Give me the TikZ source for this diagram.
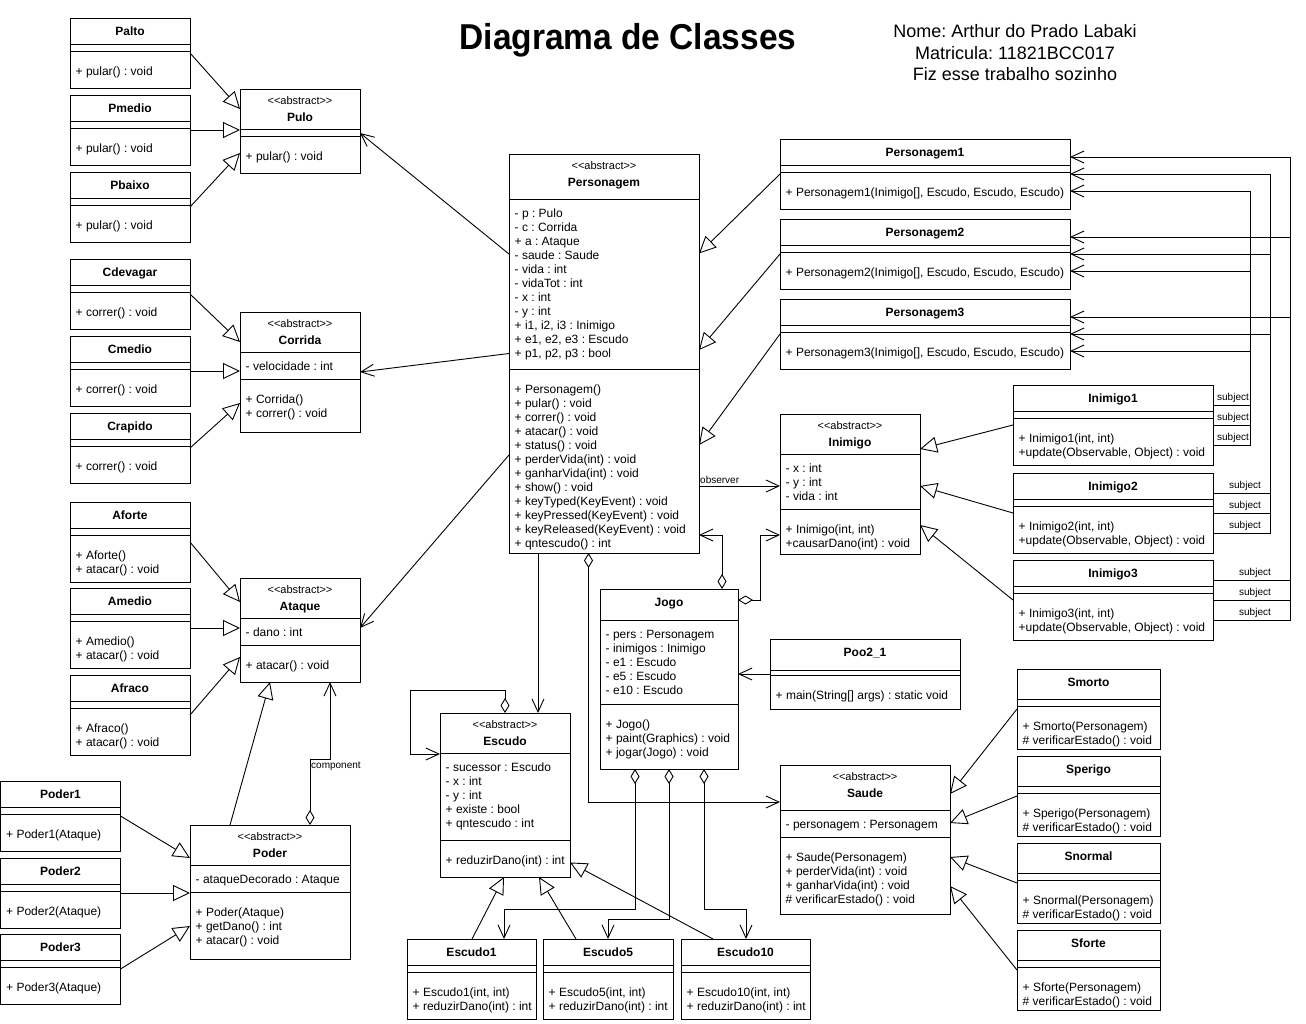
\documentclass[tikz,border=0pt]{standalone}
\usepackage{fontspec}
\setmainfont{Liberation Sans}
\usepackage{graphicx}
\usetikzlibrary{arrows.meta}

% one UML class: name, top-left, width, header/attribute/method heights, title, attributes, methods
\newif\ifabstractclass
\newcommand{\umlbody}[9]{%
  \node[classbox, minimum width=#3pt, minimum height=#4pt+#5pt+#6pt] (#1) at (#2) {};
  \draw[divider] ([yshift=-#4pt]#1.north west) -- ([yshift=-#4pt]#1.north east);
  \draw[divider] ([yshift=-#4pt-#5pt]#1.north west) -- ([yshift=-#4pt-#5pt]#1.north east);
  \ifabstractclass
    \node[stereotext] (#1-st) at ([yshift=-15pt]#1.north) {<\kern0pt<abstract>\kern0pt>};
    \node[nametext] (#1-nm) at ([yshift=-32pt]#1.north) {#7};
  \else
    \node[nametext] (#1-nm) at ([yshift=-17.6pt]#1.north) {#7};
  \fi
  \node[membertext] (#1-at) at ([xshift=5.5pt, yshift=-#4pt-18.2pt]#1.north west) {\parbox[t]{\dimexpr#3pt+40pt}{#8}};
  \node[membertext] (#1-op) at ([xshift=5.5pt, yshift=-#4pt-#5pt-24.5pt]#1.north west) {\parbox[t]{\dimexpr#3pt+40pt}{#9}};
}
\newcommand{\umlclass}{\abstractclassfalse\umlbody}
\newcommand{\umlabstract}{\abstractclasstrue\umlbody}

\begin{document}
\frenchspacing
\begin{tikzpicture}[
    x=1pt, y=-1pt,
    classbox/.style={draw, line width=1pt, inner sep=0pt, outer sep=0pt, anchor=north west},
    divider/.style={line width=1pt},
    nametext/.style={anchor=base, inner sep=0pt, font=\bfseries\fontsize{12}{14}\selectfont},
    stereotext/.style={anchor=base, inner sep=0pt, font=\fontsize{11}{13}\selectfont},
    membertext/.style={anchor=base west, inner sep=0pt, font=\fontsize{12}{14}\selectfont},
    edgelabel/.style={inner sep=0pt, font=\fontsize{10}{12}\selectfont},
    gen/.style={line width=0.9pt, -{Triangle[open, length=17pt, width=16pt]}},
    assoc/.style={line width=0.9pt, -{Straight Barb[length=13pt, width=12pt]}},
    agg/.style={line width=0.9pt, {Diamond[open, length=15pt, width=9pt]}-{Straight Barb[length=13pt, width=12pt]}}
]
    \useasboundingbox (0,0) rectangle (1306,1023);

    \node[anchor=base, inner sep=0pt, font=\bfseries\fontsize{36}{40}\selectfont] (title) at (628,49) {\scalebox{0.93}[1]{Diagrama de Classes}};
    \node[anchor=base, inner sep=0pt, font=\fontsize{18}{21.5}\selectfont] (author) at (1015,37.5)
        {\parbox[t]{300pt}{\centering Nome: Arthur do Prado Labaki\\Matricula: 11821BCC017\\Fiz esse trabalho sozinho}};

    % left column
    \umlclass{palto}{70,18}{120}{26}{7}{37}{Palto}{}{+ pular() : void}
    \umlclass{pmedio}{70,95}{120}{26}{7}{37}{Pmedio}{}{+ pular() : void}
    \umlclass{pbaixo}{70,172}{120}{26}{7}{37}{Pbaixo}{}{+ pular() : void}
    \umlabstract{pulo}{240,89}{120}{40}{7}{37}{Pulo}{}{+ pular() : void}
    \umlclass{cdevagar}{70,259}{120}{26}{7}{37}{Cdevagar}{}{+ correr() : void}
    \umlclass{cmedio}{70,336}{120}{26}{7}{37}{Cmedio}{}{+ correr() : void}
    \umlclass{crapido}{70,413}{120}{26}{7}{37}{Crapido}{}{+ correr() : void}
    \umlabstract{corrida}{240,312}{120}{40}{27}{53}{Corrida}{- velocidade : int}{+ Corrida()\\+ correr() : void}
    \umlclass{aforte}{70,502}{120}{26}{7}{47}{Aforte}{}{+ Aforte()\\+ atacar() : void}
    \umlclass{amedio}{70,588}{120}{26}{7}{47}{Amedio}{}{+ Amedio()\\+ atacar() : void}
    \umlclass{afraco}{70,675}{120}{26}{7}{47}{Afraco}{}{+ Afraco()\\+ atacar() : void}
    \umlabstract{ataque}{240,578}{120}{40}{27}{37}{Ataque}{- dano : int}{+ atacar() : void}
    \umlclass{poder1}{0.5,781}{120}{26}{7}{37}{Poder1}{}{+ Poder1(Ataque)}
    \umlclass{poder2}{0.5,858}{120}{26}{7}{37}{Poder2}{}{+ Poder2(Ataque)}
    \umlclass{poder3}{0.5,934}{120}{26}{7}{37}{Poder3}{}{+ Poder3(Ataque)}
    \umlabstract{poder}{190,825}{160}{40}{27}{67}{Poder}{- ataqueDecorado : Ataque}{+ Poder(Ataque)\\+ getDano() : int\\+ atacar() : void}

    % middle
    \umlabstract{personagem}{509,154}{190}{45}{170}{184}{Personagem}%
        {- p : Pulo\\- c : Corrida\\+ a : Ataque\\- saude : Saude\\- vida : int\\- vidaTot : int\\- x : int\\- y : int\\+ i1, i2, i3 : Inimigo\\+ e1, e2, e3 : Escudo\\+ p1, p2, p3 : bool}%
        {+ Personagem()\\+ pular() : void\\+ correr() : void\\+ atacar() : void\\+ status() : void\\+ perderVida(int) : void\\+ ganharVida(int) : void\\+ show() : void\\+ keyTyped(KeyEvent) : void\\+ keyPressed(KeyEvent) : void\\+ keyReleased(KeyEvent) : void\\+ qntescudo() : int}
    \umlclass{jogo}{600,589}{138}{31}{84}{65}{Jogo}{- pers : Personagem\\- inimigos : Inimigo\\- e1 : Escudo\\- e5 : Escudo\\- e10 : Escudo}{+ Jogo()\\+ paint(Graphics) : void\\+ jogar(Jogo) : void}
    \umlabstract{escudo}{440,713}{130}{40}{87}{37}{Escudo}{- sucessor : Escudo\\- x : int\\- y : int\\+ existe : bool\\+ qntescudo : int}{+ reduzirDano(int) : int}
    \umlclass{escudo1}{407,939}{129}{26}{7}{47}{Escudo1}{}{+ Escudo1(int, int)\\+ reduzirDano(int) : int}
    \umlclass{escudo5}{543,939}{130}{26}{7}{47}{Escudo5}{}{+ Escudo5(int, int)\\+ reduzirDano(int) : int}
    \umlclass{escudo10}{681,939}{129}{26}{7}{47}{Escudo10}{}{+ Escudo10(int, int)\\+ reduzirDano(int) : int}

    % right side
    \umlclass{personagem1}{780,139}{290}{26}{7}{37}{Personagem1}{}{+ Personagem1(Inimigo[], Escudo, Escudo, Escudo)}
    \umlclass{personagem2}{780,219}{290}{26}{7}{37}{Personagem2}{}{+ Personagem2(Inimigo[], Escudo, Escudo, Escudo)}
    \umlclass{personagem3}{780,299}{290}{26}{7}{37}{Personagem3}{}{+ Personagem3(Inimigo[], Escudo, Escudo, Escudo)}
    \umlabstract{inimigo}{780,414}{140}{40}{55}{45}{Inimigo}{- x : int\\- y : int\\- vida : int}{+ Inimigo(int, int)\\+causarDano(int) : void}
    \umlclass{inimigo1}{1013,385}{200}{26}{7}{47}{Inimigo1}{}{+ Inimigo1(int, int)\\+update(Observable, Object) : void}
    \umlclass{inimigo2}{1013,473}{200}{26}{7}{47}{Inimigo2}{}{+ Inimigo2(int, int)\\+update(Observable, Object) : void}
    \umlclass{inimigo3}{1013,560}{200}{26}{7}{47}{Inimigo3}{}{+ Inimigo3(int, int)\\+update(Observable, Object) : void}
    \umlclass{poo}{770,639}{190}{31}{5}{34}{Poo2\_1}{}{+ main(String[] args) : static void}
    \umlabstract{saude}{780,765}{170}{45}{27}{77}{Saude}{- personagem : Personagem}{+ Saude(Personagem)\\+ perderVida(int) : void\\+ ganharVida(int) : void\\\# verificarEstado() : void}
    \umlclass{smorto}{1017,669}{143}{30}{7}{43}{Smorto}{}{+ Smorto(Personagem)\\\# verificarEstado() : void}
    \umlclass{sperigo}{1017,756}{143}{30}{7}{43}{Sperigo}{}{+ Sperigo(Personagem)\\\# verificarEstado() : void}
    \umlclass{snormal}{1017,843}{143}{30}{7}{43}{Snormal}{}{+ Snormal(Personagem)\\\# verificarEstado() : void}
    \umlclass{sforte}{1017,930}{143}{30}{7}{43}{Sforte}{}{+ Sforte(Personagem)\\\# verificarEstado() : void}

    % strategies
    \draw[gen] (palto.east) -- ([yshift=22pt]pulo.west);
    \draw[gen] (pmedio.east) -- (pmedio.east -| pulo.west);
    \draw[gen] (pbaixo.east) -- ([yshift=-22pt]pulo.west);
    \draw[gen] (cdevagar.east) -- ([yshift=30pt]corrida.west);
    \draw[gen] (cmedio.east) -- (cmedio.east -| corrida.west);
    \draw[gen] (crapido.east) -- ([yshift=-31pt]corrida.west);
    \draw[gen] (aforte.east) -- ([yshift=28pt]ataque.west);
    \draw[gen] (amedio.east) -- (amedio.east -| ataque.west);
    \draw[gen] (afraco.east) -- ([yshift=-27pt]ataque.west);

    % decorator
    \draw[gen] (poder1.east) -- ([yshift=34pt]poder.west);
    \draw[gen] (poder2.east) -- (poder2.east -| poder.west);
    \draw[gen] (poder3.east) -- ([yshift=-34pt]poder.west);
    \draw[gen] ([xshift=40pt]poder.north west) -- ([xshift=30pt]ataque.south west);
    \draw[agg] ([xshift=120pt]poder.north west) -- ++(0,-66) -| ([xshift=90pt]ataque.south west);
    \node[edgelabel, anchor=west] (lblcomp) at ([xshift=121pt, yshift=59pt]poder.north west) {component};

    % personagem
    \draw[assoc] ([yshift=99.5pt]personagem.west) -- ([yshift=-2pt]pulo.east);
    \draw[assoc] (personagem.west) -- (corrida.east);
    \draw[assoc] ([yshift=-101.5pt]personagem.west) -- ([yshift=2pt]ataque.east);
    \draw[gen] (personagem1.west) -- ([yshift=100pt]personagem.east);
    \draw[gen] (personagem2.west) -- ([yshift=3.5pt]personagem.east);
    \draw[gen] (personagem3.west) -- ([yshift=-91.5pt]personagem.east);
    \coordinate (obs) at ([yshift=-132.5pt]personagem.east);
    \draw[assoc] (obs) -- (obs -| inimigo.west);
    \node[edgelabel, anchor=south west] (lblobs) at ([xshift=1pt, yshift=2pt]obs) {observer};
    \coordinate (esctop) at ([xshift=98pt]escudo.north west);
    \draw[assoc] (personagem.south -| esctop) -- (esctop);
    \draw[agg] ([xshift=79.5pt]personagem.south west) |- ([yshift=37.5pt]saude.west);

    % inimigos
    \draw[gen] (inimigo1.west) -- ([yshift=35pt]inimigo.east);
    \draw[gen] (inimigo2.west) -- ([yshift=-2pt]inimigo.east);
    \draw[gen] (inimigo3.west) -- ([yshift=-41pt]inimigo.east);
    \foreach \i/\dx/\dy/\lx in {1/37/-17pt/20pt, 2/57/0pt/32pt, 3/77/17pt/42pt}
      \foreach \j/\sy in {1/20pt, 2/0pt, 3/-20pt} {
        \draw[assoc] ([yshift=\sy]inimigo\i.east) -- ++(\dx,0) |- ([yshift=\dy]personagem\j.east);
        \node[edgelabel] (subj\i\j) at ([xshift=\lx, yshift=\sy+6.7pt]inimigo\i.east) {subject};
      }

    % jogo
    \draw[agg] ([xshift=122pt]jogo.north west) |- ([yshift=-181.5pt]personagem.east);
    \draw[agg] ([yshift=79pt]jogo.east) -- ++(22,0) |- ([yshift=-51pt]inimigo.west);
    \draw[assoc] (poo.west) -- (poo.west -| jogo.east);
    \draw[agg] ([xshift=35pt]jogo.south west) -- ++(0,140) -| ([xshift=97pt]escudo1.north west);
    \draw[agg] ([xshift=69pt]jogo.south west) -- ++(0,150) -| ([xshift=65pt]escudo5.north west);
    \draw[agg] ([xshift=104pt]jogo.south west) -- ++(0,140) -| ([xshift=65pt]escudo10.north west);

    % escudo chain
    \draw[agg] ([xshift=65pt]escudo.north west) -- ++(0,-23) -- ++(-95,0) |- ([yshift=41pt]escudo.west);
    \draw[gen] ([xshift=65pt]escudo1.north west) -- ([xshift=64pt]escudo.south west);
    \draw[gen] ([xshift=33pt]escudo5.north west) -- ([xshift=99pt]escudo.south west);
    \draw[gen] ([xshift=32pt]escudo10.north west) -- ([yshift=-67.5pt]escudo.east);

    % saude states
    \draw[gen] (smorto.west) -- ([yshift=45.5pt]saude.east);
    \draw[gen] (sperigo.west) -- ([yshift=16.5pt]saude.east);
    \draw[gen] (snormal.west) -- ([yshift=-17.5pt]saude.east);
    \draw[gen] (sforte.west) -- ([yshift=-46.5pt]saude.east);
\end{tikzpicture}
\end{document}
